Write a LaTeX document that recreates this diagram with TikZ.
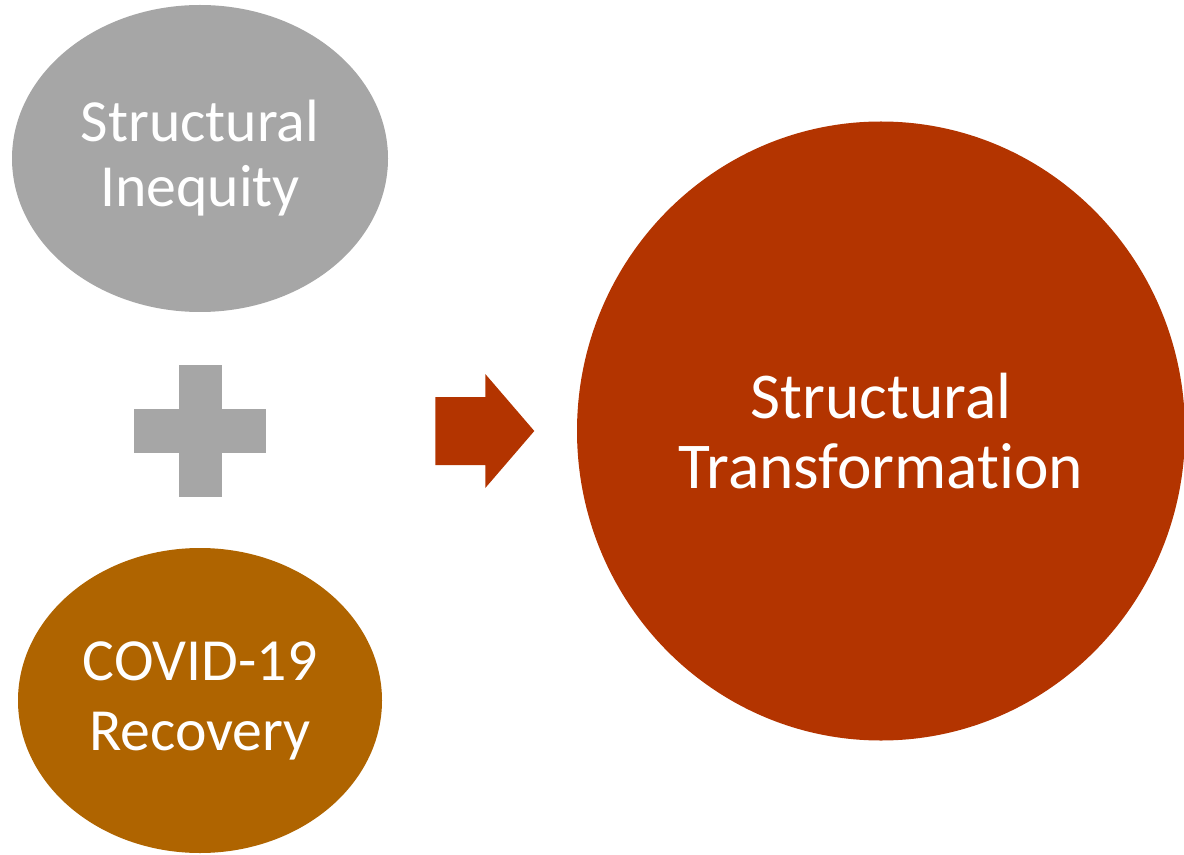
\documentclass[tikz,border=0pt]{standalone}
\usepackage{fontspec}
\setmainfont{Carlito}[Ligatures=NoCommon]
\usetikzlibrary{shapes.geometric,positioning,calc}
\definecolor{causegray}{HTML}{A6A6A6}
\definecolor{covidbrown}{HTML}{AF6400}
\definecolor{changered}{HTML}{B33400}

\begin{document}
\begin{tikzpicture}[
        blob/.style={ellipse, inner sep=0pt, align=center, text=white},
        cause/.style={blob, fill=causegray, font=\fontsize{17}{18.5}\selectfont},
        covid/.style={blob, fill=covidbrown, font=\fontsize{17}{19.9}\selectfont},
        result/.style={blob, fill=changered, font=\fontsize{18.6}{19.9}\selectfont}
    ]
        \useasboundingbox (0,0) rectangle (11.84,8.54);

        \node [cause, minimum width=3.76cm, minimum height=3.07cm] (ineq) at (2.00,6.955) {Structural\\Inequity};
        \node [covid, minimum width=3.64cm, minimum height=3.05cm] (covid) at (2.00,1.535) {COVID-19\\Recovery};
        \node [result, minimum width=6.08cm, minimum height=6.19cm] (trans) at (8.81,4.23) {Structural\\Transformation};

        % plus sign between the two causes
        \coordinate (plus) at (2.00,4.23);
        \fill [causegray] ($(plus)+(-0.215,-0.66)$) rectangle ($(plus)+(0.215,0.66)$);
        \fill [causegray] ($(plus)+(-0.66,-0.22)$) rectangle ($(plus)+(0.66,0.22)$);

        % arrow towards the result
        \coordinate (tip) at ($(trans.west)+(-0.42,0)$);
        \fill [changered] ($(tip)+(-0.99,0.34)$) -- ($(tip)+(-0.49,0.34)$) -- ($(tip)+(-0.49,0.57)$)
            -- (tip) -- ($(tip)+(-0.49,-0.57)$) -- ($(tip)+(-0.49,-0.34)$) -- ($(tip)+(-0.99,-0.34)$) -- cycle;
    \end{tikzpicture}
\end{document}
